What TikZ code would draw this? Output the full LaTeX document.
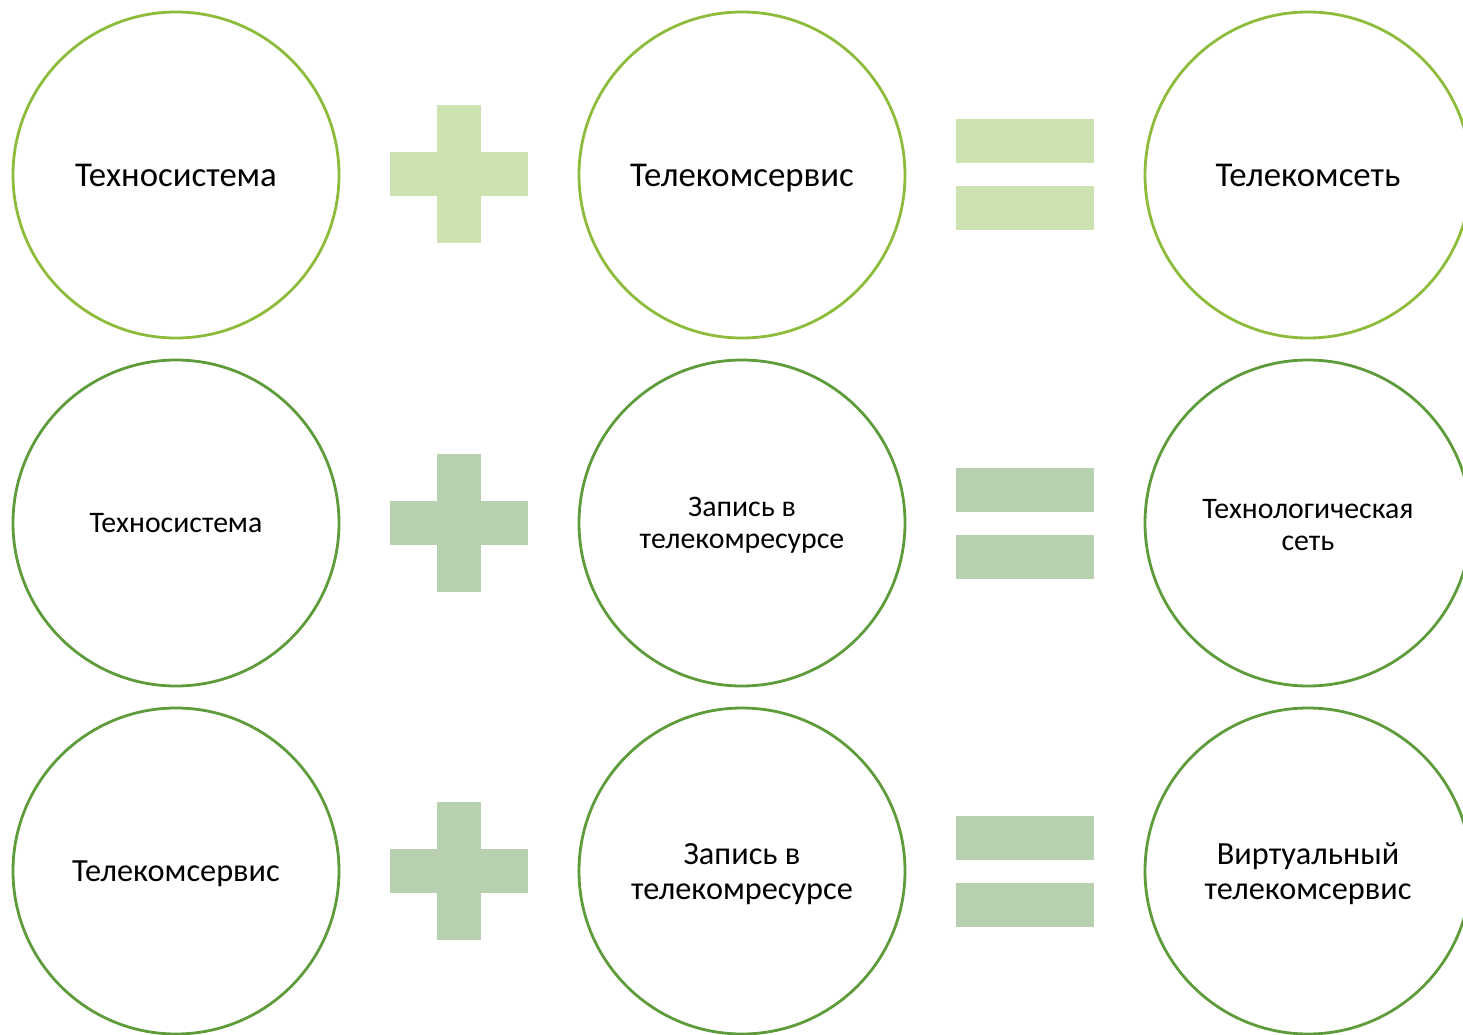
\documentclass[tikz,border=0pt]{standalone}
\usepackage{fontspec}
\setmainfont{Carlito}
\definecolor{lgline}{HTML}{8DBB3C}
\definecolor{lgfill}{HTML}{CCE2B0}
\definecolor{dgline}{HTML}{5E9B3A}
\definecolor{dgfill}{HTML}{B7D0B0}
\tikzset{
  circ/.style={circle, draw=#1, line width=2.8pt, minimum size=326pt, inner sep=0pt},
  lbl/.style={align=center, text=black, inner sep=0pt},
}
\newcommand{\plussign}[3]{% x, y, color
  \fill[#3] (#1-22,#2-69) rectangle (#1+22,#2+69);
  \fill[#3] (#1-69,#2-22) rectangle (#1+69,#2+22);
}
\newcommand{\eqsign}[3]{%
  \fill[#3] (#1-69,#2-55.5) rectangle (#1+69,#2-11.5);
  \fill[#3] (#1-69,#2+11.5) rectangle (#1+69,#2+55.5);
}
\begin{document}
\begin{tikzpicture}[x=1pt,y=-1pt]
\useasboundingbox (0,0) rectangle (1463,1035);
\begin{scope}
\clip (0,0) rectangle (1463,1035);
% row 1
\node[circ=lgline] (a1) at (176,175) {};
\node[circ=lgline] (b1) at (742,175) {};
\node[circ=lgline] (c1) at (1308,175) {};
\node[lbl, font=\fontsize{34.8}{40}\selectfont] (ta1) at (a1.center) {Техносистема};
\node[lbl, font=\fontsize{34.8}{40}\selectfont] (tb1) at ([yshift=-3pt]b1.center) {Телекомсервис};
\node[lbl, font=\fontsize{34.8}{40}\selectfont] (tc1) at (c1.center) {Телекомсеть};
\plussign{459}{174}{lgfill}
\eqsign{1025}{174.5}{lgfill}
% row 2
\node[circ=dgline] (a2) at (176,523) {};
\node[circ=dgline] (b2) at (742,523) {};
\node[circ=dgline] (c2) at (1308,523) {};
\node[lbl, font=\fontsize{29.8}{32}\selectfont] (ta2) at (a2.center) {Техносистема};
\node[lbl, font=\fontsize{29.8}{32}\selectfont] (tb2) at ([yshift=-2pt]b2.center) {Запись в\\телекомресурсе};
\node[lbl, font=\fontsize{29.8}{32}\selectfont] (tc2) at ([yshift=-2pt]c2.center) {Технологическая\\сеть};
\plussign{459}{523}{dgfill}
\eqsign{1025}{523}{dgfill}
% row 3
\node[circ=dgline] (a3) at (176,871) {};
\node[circ=dgline] (b3) at (742,871) {};
\node[circ=dgline] (c3) at (1308,871) {};
\node[lbl, font=\fontsize{32.3}{35}\selectfont] (ta3) at ([yshift=-3pt]a3.center) {Телекомсервис};
\node[lbl, font=\fontsize{32.3}{35}\selectfont] (tb3) at ([yshift=-3pt]b3.center) {Запись в\\телекомресурсе};
\node[lbl, font=\fontsize{32.3}{35}\selectfont] (tc3) at ([yshift=-3pt]c3.center) {Виртуальный\\телекомсервис};
\plussign{459}{871}{dgfill}
\eqsign{1025}{871}{dgfill}
\end{scope}
\end{tikzpicture}
\end{document}
